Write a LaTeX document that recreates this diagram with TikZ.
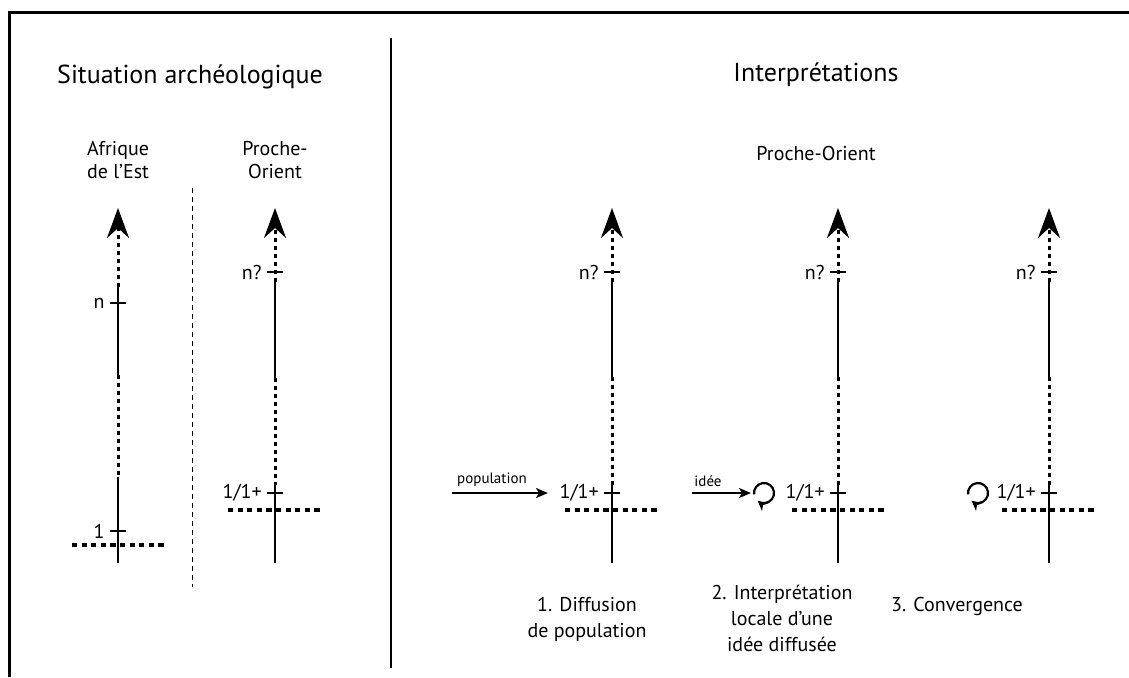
\documentclass[tikz,border=0pt]{standalone}
\usepackage{fontspec}
\setmainfont{PT Sans}
\usetikzlibrary{arrows.meta}

\tikzset{
  axis/.style={line width=1.4pt},
  gap/.style={line width=1.5pt, dash pattern=on 2pt off 2pt},
  floor/.style={line width=2.2pt, dash pattern=on 2.6pt off 2.2pt},
  tick/.style={line width=1.2pt},
  uptip/.style={-{Stealth[length=15pt,width=11pt,inset=5pt]}},
  push/.style={line width=1pt, -{Stealth[length=6pt,width=5pt,inset=1.5pt]}},
  turn/.style={line width=1.1pt, -{Stealth[length=5pt,width=5pt,inset=1.5pt]}},
  lbl/.style={font=\fontsize{10}{11}\selectfont, inner sep=1pt},
  head/.style={font=\fontsize{13}{15}\selectfont},
  place/.style={font=\fontsize{10}{11.5}\selectfont, align=center},
  caption/.style={font=\fontsize{10}{13}\selectfont, align=center},
  small/.style={font=\fontsize{7.5}{8.5}\selectfont, inner sep=1pt},
}

\begin{document}
\begin{tikzpicture}[x=0.5pt, y=0.5pt]
    \useasboundingbox (0,0) rectangle (1129,-677);

    % Frame and separators
    \coordinate (frameR) at (1129,-12);
    \coordinate (frameTL) at (9,-12);
    \coordinate (frameB) at (9,-677);
    \draw[line width=1.5pt] (frameR) -- (frameTL) -- (frameB);
    \coordinate (sepT) at (391,-38);
    \coordinate (sepB) at (391,-668);
    \draw[line width=1.4pt] (sepT) -- (sepB);
    \coordinate (midT) at (192,-188);
    \coordinate (midB) at (192,-587);
    \draw[line width=0.5pt, dash pattern=on 2.5pt off 2pt] (midT) -- (midB);

    % Titles
    \node[head] (sitTitle) at (190,-77) {Situation archéologique};
    \node[head] (intTitle) at (816,-75) {Interprétations};
    \node[place] (poTitle) at (816,-153) {Proche-Orient};
    \node[place] (afLabel) at (118,-160) {Afrique\\de l’Est};
    \node[place] (poLabel) at (275,-160) {Proche-\\Orient};

    % Afrique de l'Est axis
    \coordinate (A1) at (118,-208);
    \coordinate (A2) at (118,-287);
    \coordinate (A3) at (118,-375);
    \coordinate (A4) at (118,-477);
    \coordinate (A5) at (118,-563);
    \draw[gap, uptip] (A2) -- (A1);
    \draw[axis] (A2) -- (A3);
    \draw[gap] (A3) -- (A4);
    \draw[axis] (A4) -- (A5);
    \draw[tick] (110,-303) -- (126,-303);
    \node[lbl, anchor=east] (An) at (107,-303) {n};
    \draw[tick] (110,-531) -- (126,-531);
    \node[lbl, anchor=east] (Aone) at (107,-531) {1};
    \draw[floor] (72,-545) -- (165,-545);

    % Proche-Orient axis (archaeology)
    \coordinate (B1) at (275,-208);
    \coordinate (B2) at (275,-282);
    \coordinate (B3) at (275,-378);
    \coordinate (B4) at (275,-485);
    \coordinate (B5) at (275,-563);
    \draw[gap, uptip] (B2) -- (B1);
    \draw[axis] (B2) -- (B3);
    \draw[gap] (B3) -- (B4);
    \draw[axis] (B4) -- (B5);
    \draw[tick] (267,-272) -- (283,-272);
    \node[lbl, anchor=east] (Bn) at (264,-272) {n?};
    \draw[tick] (267,-493) -- (283,-493);
    \node[lbl, anchor=east] (Bone) at (264,-493) {1/1+};
    \draw[floor] (228,-510) -- (323,-510);

    % 1. Diffusion de population
    \coordinate (C1) at (612,-208);
    \coordinate (C2) at (612,-282);
    \coordinate (C3) at (612,-377);
    \coordinate (C4) at (612,-485);
    \coordinate (C5) at (612,-563);
    \draw[gap, uptip] (C2) -- (C1);
    \draw[axis] (C2) -- (C3);
    \draw[gap] (C3) -- (C4);
    \draw[axis] (C4) -- (C5);
    \draw[tick] (604,-272) -- (620,-272);
    \node[lbl, anchor=east] (Cn) at (601,-272) {n?};
    \draw[tick] (604,-493) -- (620,-493);
    \node[lbl, anchor=east] (Cone) at (601,-493) {1/1+};
    \draw[floor] (565,-510) -- (658,-510);
    \coordinate (popS) at (452,-493);
    \coordinate (popE) at (548,-493);
    \draw[push] (popS) -- (popE);
    \node[small, anchor=south] (pop) at (492,-489) {population};
    \node[caption] (capC) at (587,-619) {1. Diffusion\\de population};

    % 2. Interpretation locale
    \coordinate (D1) at (838,-208);
    \coordinate (D2) at (838,-282);
    \coordinate (D3) at (838,-377);
    \coordinate (D4) at (838,-485);
    \coordinate (D5) at (838,-563);
    \draw[gap, uptip] (D2) -- (D1);
    \draw[axis] (D2) -- (D3);
    \draw[gap] (D3) -- (D4);
    \draw[axis] (D4) -- (D5);
    \draw[tick] (830,-272) -- (846,-272);
    \node[lbl, anchor=east] (Dn) at (827,-272) {n?};
    \draw[tick] (830,-493) -- (846,-493);
    \node[lbl, anchor=east] (Done) at (827,-493) {1/1+};
    \draw[floor] (792,-510) -- (885,-510);
    \coordinate (ideaS) at (692,-493);
    \coordinate (ideaE) at (751,-493);
    \draw[push] (ideaS) -- (ideaE);
    \node[small, anchor=south] (idea) at (708,-489) {idée};
    \draw[turn] (764,-493) ++(188:10) arc[start angle=188, end angle=-130, radius=10];
    \node[caption] (capD) at (782,-618) {2. Interprétation\\locale d’une\\idée diffusée};

    % 3. Convergence
    \coordinate (E1) at (1049,-208);
    \coordinate (E2) at (1049,-282);
    \coordinate (E3) at (1049,-377);
    \coordinate (E4) at (1049,-485);
    \coordinate (E5) at (1049,-563);
    \draw[gap, uptip] (E2) -- (E1);
    \draw[axis] (E2) -- (E3);
    \draw[gap] (E3) -- (E4);
    \draw[axis] (E4) -- (E5);
    \draw[tick] (1041,-272) -- (1057,-272);
    \node[lbl, anchor=east] (En) at (1038,-272) {n?};
    \draw[tick] (1041,-493) -- (1057,-493);
    \node[lbl, anchor=east] (Eone) at (1038,-493) {1/1+};
    \draw[floor] (1002,-510) -- (1097,-510);
    \draw[turn] (978,-493) ++(188:10) arc[start angle=188, end angle=-130, radius=10];
    \node[caption] (capE) at (957,-606) {3. Convergence};
\end{tikzpicture}
\end{document}
